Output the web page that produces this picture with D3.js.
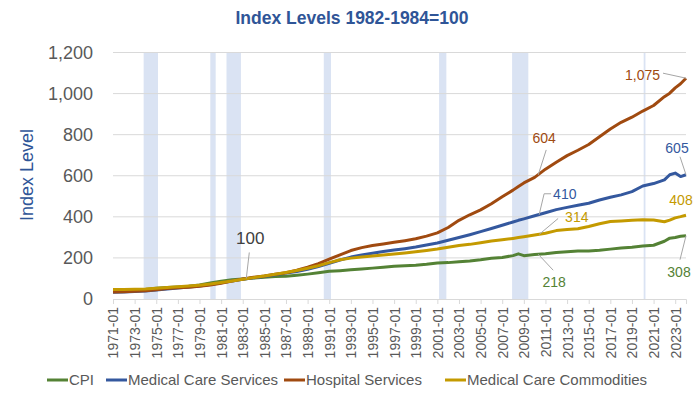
<!DOCTYPE html>
<meta charset="utf-8">
<head>
  <title>Medical care price indexes</title>
</head>
<style>
body { margin: 0; background: #fff; }
text { font-family: "Liberation Sans", Arial, sans-serif; }
.grid line { stroke: #d9d9d9; stroke-width: 1px; }
.band { fill: #dae3f3; }
.series { fill: none; stroke-width: 3px; stroke-linejoin: round; }
.leader { fill: none; stroke: #a6a6a6; stroke-width: 1px; }
</style>
<body>
  <svg width="700" height="394"></svg>
  <script src="https://cdnjs.cloudflare.com/ajax/libs/d3/7.8.5/d3.min.js"></script>
  <script>
// index levels, 1982-1984=100 (January readings + a few mid-year points)
var dates = [
  "1971-01","1972-01","1973-01","1974-01","1975-01","1976-01","1977-01","1978-01","1979-01","1980-01",
  "1981-01","1982-01","1983-01","1984-01","1985-01","1986-01","1987-01","1988-01","1989-01","1990-01",
  "1991-01","1992-01","1993-01","1994-01","1995-01","1996-01","1997-01","1998-01","1999-01","2000-01",
  "2001-01","2002-01","2003-01","2004-01","2005-01","2006-01","2007-01","2008-01","2008-07","2009-01","2010-01",
  "2011-01","2012-01","2013-01","2014-01","2015-01","2016-01","2017-01","2018-01","2019-01","2020-01",
  "2021-01","2022-01","2022-07","2023-01","2023-07","2024-01"
];
var cpi = [
  39.8, 41.1, 42.6, 46.6, 52.1, 55.6, 58.5, 62.5, 68.3, 77.8,
  87.0, 94.3, 97.8, 101.9, 105.5, 109.6, 111.2, 115.7, 121.1, 127.4,
  134.6, 138.1, 142.6, 146.2, 150.3, 154.4, 159.1, 161.6, 164.3, 168.8,
  175.1, 177.1, 181.7, 185.2, 190.7, 198.3, 202.4, 211.1, 220.0, 211.1, 216.7,
  220.2, 226.7, 230.3, 233.9, 233.7, 236.9, 242.8, 247.9, 251.7, 258.0,
  261.6, 281.1, 296.3, 299.2, 305.7, 308.4
];
var medServices = [
  33, 34.5, 36, 38.5, 43.5, 48.5, 53.5, 58.5, 63.5, 70.5,
  78.5, 88, 96.5, 103.5, 110, 118, 126, 134, 145, 158,
  174, 190, 204, 214, 223, 231, 238, 245, 253, 263,
  273, 286, 299, 313, 328, 343, 359, 375, 383, 390, 405,
  420, 435, 446, 456, 466, 482, 495, 507, 523, 550,
  562, 580, 605, 613, 596, 605
];
var hospital = [
  34, 35.5, 37.5, 40.5, 45.5, 50.5, 54.5, 57.5, 62, 68,
  77, 87, 97.5, 106, 112, 120, 128, 140, 155, 172,
  194, 215, 236, 250, 260, 268, 276, 284, 293, 306,
  322, 348, 383, 410, 434, 464, 498, 530, 548, 565, 592,
  632, 666, 698, 724, 752, 790, 828, 860, 885, 915,
  942, 985, 1002, 1028, 1048, 1075
];
var medCommodities = [
  46, 46.5, 47, 48.5, 52, 56, 59.5, 63, 67.5, 73,
  80, 88, 96.5, 104, 112, 120, 129, 139, 150, 162,
  177, 191, 199, 204, 209, 214, 219, 224, 230, 236,
  243, 252, 260, 266, 274, 282, 288, 295, 299, 303, 312,
  320, 333, 338, 342, 353, 366, 377, 380, 383, 386,
  385, 376, 384, 395, 401, 408
];
var seriesNames = ["CPI", "Medical Care Services", "Hospital Services", "Medical Care Commodities"];
var seriesColors = ["#548235", "#34589e", "#a04a10", "#c49a00"];
var yTicks = [0, 200, 400, 600, 800, 1000, 1200];
// NBER recessions
var recessions = [
  ["1973-11", "1975-03"], ["1980-01", "1980-07"], ["1981-07", "1982-11"], ["1990-07", "1991-03"],
  ["2001-03", "2001-11"], ["2007-12", "2009-06"], ["2020-02", "2020-04"]
];
// labels on the lines: [text, date, value, series index, leader offsets, text offset, anchor]
var notes = [
  ["100",   "1983-05", 100,  -1, [[0,0],[3,-26]],         [4,-40],  "middle"],
  ["604",   "2010-05", 604,  2,  [[0,0],[8,-25]],         [6,-37],  "middle"],
  ["410",   "2010-06", 410,  1,  [[0,0],[5,-21],[12,-21]],[14,-21], "start"],
  ["314",   "2010-06", 314,  3,  [[0,0],[19,-16]],        [26,-17], "start"],
  ["218",   "2010-05", 218,  0,  [[0,0],[15,16]],         [16,28],  "middle"],
  ["1,075", "2024-01", 1075, 2,  [[0,0],[-23,-5]],        [-26,-3], "end"],
  ["605",   "2024-01", 605,  1,  [[0,0],[-6,-18]],        [-9,-27], "middle"],
  ["408",   "2024-01", 408,  3,  null,                    [-5,-15], "middle"],
  ["308",   "2024-01", 308,  0,  [[0,0],[-6,24]],         [-7,36],  "middle"]
];

var parse = d3.timeParse("%Y-%m");
var svg = d3.select("svg");

var x = d3.scaleTime()
  .domain([parse("1971-01"), parse("2024-01")])
  .range([113, 686]);
var y = d3.scaleLinear()
  .domain([0, 1200])
  .range([299, 52.5]);

// title (second line)
svg.append("text")
  .attr("x", 352).attr("y", 24)
  .attr("text-anchor", "middle")
  .style("font-size", "17.5px").style("font-weight", "bold")
  .style("fill", "#2f5597")
  .text("Index Levels 1982-1984=100");

// recession bands
svg.append("g").selectAll("rect")
  .data(recessions)
  .enter().append("rect")
  .attr("class", "band")
  .attr("x", function(d) { return x(parse(d[0])); })
  .attr("width", function(d) { return Math.max(1.5, x(parse(d[1])) - x(parse(d[0]))); })
  .attr("y", y(1200))
  .attr("height", y(0) - y(1200));

// horizontal gridlines
svg.append("g").attr("class", "grid")
  .selectAll("line")
  .data(yTicks.slice(1))
  .enter().append("line")
  .attr("x1", 113).attr("x2", 686)
  .attr("y1", function(d) { return y(d); })
  .attr("y2", function(d) { return y(d); });

// y axis labels
var yAxis = svg.append("g")
  .attr("transform", "translate(100,0)")
  .call(d3.axisLeft(y).tickValues(yTicks).tickSize(0).tickPadding(7).tickFormat(d3.format(",")));
yAxis.select(".domain").remove();
yAxis.selectAll("text").style("font-size", "18px").style("fill", "#595959");

svg.append("text")
  .attr("transform", "translate(33,175) rotate(-90)")
  .attr("text-anchor", "middle")
  .style("font-size", "18px").style("fill", "#2f5597")
  .text("Index Level");

// x axis
var xTicks = d3.range(1971, 2024, 2).map(function(yr) { return new Date(yr, 0, 1); });
var xAxis = svg.append("g")
  .attr("transform", "translate(0," + y(0) + ")")
  .call(d3.axisBottom(x).tickValues(xTicks).tickSize(5).tickFormat(d3.timeFormat("%Y-%m")));
xAxis.select(".domain").attr("stroke", "#d9d9d9");
xAxis.selectAll(".tick line").attr("stroke", "#d9d9d9");
xAxis.selectAll("text")
  .attr("transform", "rotate(-90)")
  .attr("text-anchor", "end")
  .attr("x", -8).attr("y", 0).attr("dy", "0.35em")
  .style("font-size", "14px").style("fill", "#595959");

// the lines
var allSeries = [cpi, medServices, hospital, medCommodities];
var line = d3.line()
  .x(function(d, i) { return x(parse(dates[i])); })
  .y(function(d) { return y(d); });

svg.append("g").selectAll("path")
  .data(allSeries)
  .enter().append("path")
  .attr("class", "series")
  .attr("stroke", function(d, i) { return seriesColors[i]; })
  .attr("d", line);

// data labels
var noteG = svg.append("g");
notes.forEach(function(n) {
  var px = x(parse(n[1])), py = y(n[2]);
  if (n[4]) {
    noteG.append("path")
      .attr("class", "leader")
      .attr("d", d3.line()(n[4].map(function(p) { return [px + p[0], py + p[1]]; })));
  }
  noteG.append("text")
    .attr("x", px + n[5][0]).attr("y", py + n[5][1])
    .attr("dy", "0.35em")
    .attr("text-anchor", n[6])
    .style("font-size", n[3] < 0 ? "17px" : "14px")
    .style("fill", n[3] < 0 ? "#404040" : seriesColors[n[3]])
    .text(n[0]);
});

// legend
var legendX = [47, 106, 284, 445];
var legend = svg.append("g").attr("transform", "translate(0,380)");
seriesNames.forEach(function(name, i) {
  legend.append("line")
    .attr("x1", legendX[i]).attr("x2", legendX[i] + 21)
    .attr("stroke", seriesColors[i]).attr("stroke-width", 3);
  legend.append("text")
    .attr("x", legendX[i] + 22).attr("dy", "0.35em")
    .style("font-size", "15px").style("fill", "#595959")
    .text(name);
});
  </script>
</body>
